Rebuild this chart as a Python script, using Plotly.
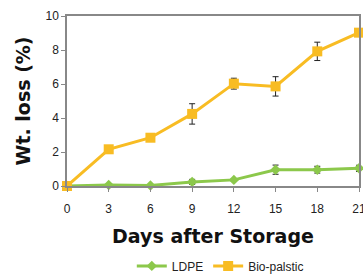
import plotly.graph_objects as go

days = [0, 3, 6, 9, 12, 15, 18, 21]
ldpe = [0.0, 0.06, 0.03, 0.24, 0.36, 0.96, 0.96, 1.04]
ldpe_err = [0, 0, 0, 0.15, 0.05, 0.27, 0.2, 0.18]
bio = [0.0, 2.16, 2.84, 4.24, 6.02, 5.86, 7.92, 9.02]
bio_err = [0, 0, 0, 0.6, 0.32, 0.57, 0.54, 0.1]

green = "#8CC84B"
yellow = "#F8BC23"

fig = go.Figure()
fig.add_trace(go.Scatter(
    x=days, y=ldpe, name="LDPE", mode="lines+markers",
    line=dict(color=green, width=3),
    marker=dict(symbol="diamond", size=8, color=green),
    error_y=dict(type="data", array=ldpe_err, color="#222", thickness=1, width=3),
    cliponaxis=False,
))
fig.add_trace(go.Scatter(
    x=days, y=bio, name="Bio-palstic", mode="lines+markers",
    line=dict(color=yellow, width=3),
    marker=dict(symbol="square", size=10, color=yellow),
    error_y=dict(type="data", array=bio_err, color="#222", thickness=1, width=3),
    cliponaxis=False,
))

fig.update_layout(
    width=363, height=276,
    margin=dict(l=67, r=4, t=16, b=90, autoexpand=False),
    plot_bgcolor="white", paper_bgcolor="white",
    font=dict(family="Liberation Sans", size=12, color="#222"),
    showlegend=True,
    legend=dict(orientation="h", x=0.525, xanchor="center", y=-0.47, yanchor="middle",
                font=dict(size=12), itemwidth=30),
    xaxis=dict(range=[0, 21], tickvals=days, ticks="outside", ticklen=4, automargin=False,
               ticklabelstandoff=7, ticklabeloverflow="allow",
               tickcolor="#888", showline=True, linecolor="#888", linewidth=1.5, mirror=True,
               showgrid=False, zeroline=False,
               title=dict(text="<b>Days after Storage</b>",
                          font=dict(family="DejaVu Sans", size=19, color="#111"), standoff=15)),
    yaxis=dict(range=[0, 10], tickvals=[0, 2, 4, 6, 8, 10], ticks="outside", ticklen=4, automargin=False,
               tickcolor="#888", showline=True, linecolor="#888", linewidth=1.5, mirror=True,
               showgrid=False, zeroline=False,
               title=dict(text="<b>Wt. loss (%)</b>",
                          font=dict(family="DejaVu Sans", size=19, color="#111"), standoff=10)),
)

fig.write_html("out.html", config={"displayModeBar": False},
               post_script="document.body.style.margin='0';")
